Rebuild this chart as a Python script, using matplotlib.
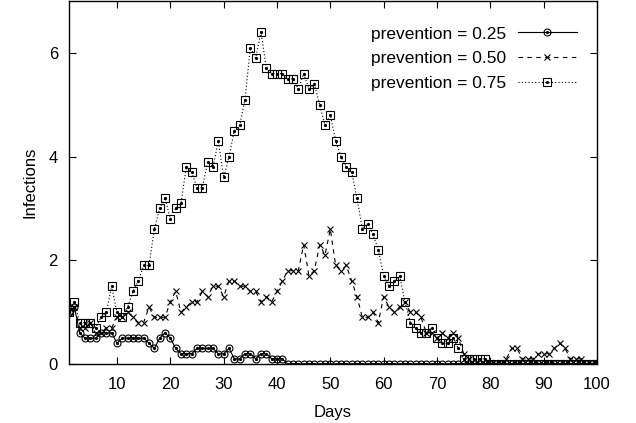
import numpy as np
import matplotlib
matplotlib.use("Agg")
import matplotlib.pyplot as plt
from matplotlib.legend_handler import HandlerTuple

plt.rcParams["font.family"] = ["Liberation Sans", "DejaVu Sans"]

days = np.arange(1, 101)

prev_025 = [
    1.0, 1.1, 0.6, 0.5, 0.5, 0.5, 0.6, 0.6, 0.6, 0.4,
    0.5, 0.5, 0.5, 0.5, 0.5, 0.4, 0.3, 0.5, 0.6, 0.5,
    0.3, 0.2, 0.2, 0.2, 0.3, 0.3, 0.3, 0.3, 0.2, 0.2,
    0.3, 0.1, 0.1, 0.2, 0.2, 0.1, 0.2, 0.2, 0.1, 0.1,
    0.1] + [0.0] * 59

prev_050 = [
    1.0, 1.1, 0.7, 0.7, 0.8, 0.6, 0.6, 0.7, 0.7, 0.9,
    0.9, 1.0, 0.9, 0.8, 0.8, 1.1, 0.9, 0.9, 0.9, 1.2,
    1.4, 1.0, 1.1, 1.2, 1.2, 1.4, 1.3, 1.5, 1.5, 1.3,
    1.6, 1.6, 1.5, 1.5, 1.4, 1.4, 1.2, 1.3, 1.2, 1.4,
    1.6, 1.8, 1.8, 1.8, 2.3, 1.7, 1.8, 2.3, 2.1, 2.6,
    1.9, 1.8, 1.9, 1.6, 1.3, 0.9, 0.9, 1.0, 0.8, 1.3,
    1.1, 1.0, 1.1, 1.2, 1.0, 1.0, 0.9, 0.6, 0.6, 0.5,
    0.6, 0.5, 0.6, 0.5, 0.2, 0.1, 0.0, 0.0, 0.0, 0.0,
    0.0, 0.0, 0.1, 0.3, 0.3, 0.1, 0.1, 0.1, 0.2, 0.2,
    0.2, 0.3, 0.4, 0.3, 0.1, 0.1, 0.1, 0.0, 0.0, 0.0]

prev_075 = [
    1.0, 1.2, 0.8, 0.8, 0.8, 0.7, 0.9, 1.0, 1.5, 1.0,
    0.9, 1.1, 1.4, 1.6, 1.9, 1.9, 2.6, 3.0, 3.2, 2.8,
    3.0, 3.1, 3.8, 3.7, 3.4, 3.4, 3.9, 3.8, 4.3, 3.6,
    4.0, 4.5, 4.6, 5.1, 6.1, 5.9, 6.4, 5.7, 5.6, 5.6,
    5.6, 5.5, 5.5, 5.3, 5.6, 5.3, 5.4, 5.0, 4.6, 4.8,
    4.3, 4.0, 3.8, 3.7, 3.2, 2.6, 2.7, 2.5, 2.2, 1.7,
    1.5, 1.6, 1.7, 1.2, 0.8, 0.7, 0.6, 0.6, 0.7, 0.5,
    0.4, 0.4, 0.5, 0.3, 0.1, 0.1, 0.1, 0.1, 0.1, 0.0] + [0.0] * 20

labels = ["prevention = 0.25", "prevention = 0.50", "prevention = 0.75"]

fig = plt.figure(figsize=(6.36, 4.23), dpi=100)
ax = fig.add_axes([69 / 636, 59 / 423, 528 / 636, 363 / 423])

line_kw = dict(color="black", lw=0.8, markerfacecolor="none",
               markeredgecolor="black", markeredgewidth=0.8)
dot_kw = dict(ls="none", marker="o", markersize=1.3, color="black")

l1, = ax.plot(days, prev_025, ls="-", marker="o", markersize=5, **line_kw)
d1, = ax.plot(days, prev_025, **dot_kw)
l2, = ax.plot(days, prev_050, ls=(0, (4, 4)), marker="x", markersize=5, **line_kw)
l3, = ax.plot(days, prev_075, ls=(0, (1, 2)), marker="s", markersize=5.6, **line_kw)
d3, = ax.plot(days, prev_075, **dot_kw)

ax.set_xlim(1, 100)
ax.set_ylim(0, 7)
ax.set_xticks(range(10, 101, 10))
ax.set_yticks([0, 2, 4, 6])
ax.tick_params(direction="in", length=5, width=0.8, top=True, right=True,
               labelsize=12)
ax.tick_params(axis="x", pad=9)
ax.tick_params(axis="y", pad=8)
for s in ax.spines.values():
    s.set_linewidth(1.0)

ax.set_xlabel("Days", fontsize=12, labelpad=10)
ax.set_ylabel("Infections", fontsize=12, labelpad=8)

leg = ax.legend([(l1, d1), l2, (l3, d3)], labels,
                handler_map={tuple: HandlerTuple(ndivide=1, pad=0)},
                loc="upper right", bbox_to_anchor=(0.962, 0.93),
                frameon=False, markerfirst=False, fontsize=12.5,
                handlelength=3.4, handletextpad=0.7, labelspacing=0.55,
                borderpad=0, borderaxespad=0, numpoints=1)

fig.savefig("out.png", dpi=100)
